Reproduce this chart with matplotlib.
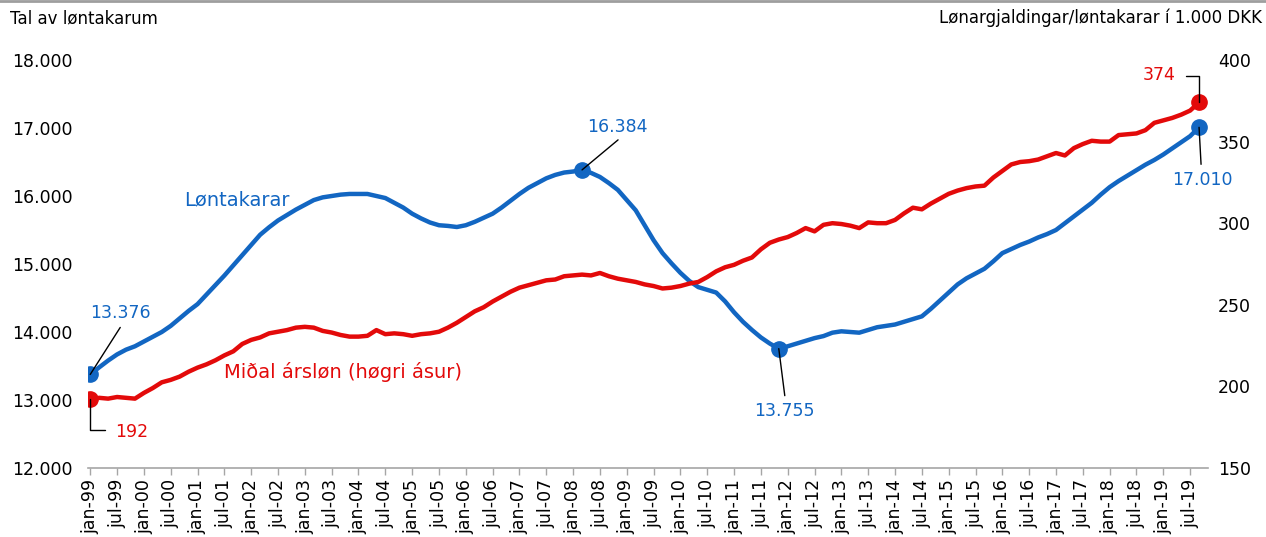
import numpy as np
import matplotlib
matplotlib.use("Agg")
import matplotlib.pyplot as plt
from matplotlib.lines import Line2D

BLUE = "#1266C2"
RED = "#E30A0A"
GREY = "#A6A6A6"

# months after jan-99, every second month up to sep-19
months = list(range(0, 250, 2))

lontakarar = [
    13376, 13480, 13580, 13670, 13740, 13790, 13860, 13930, 14000, 14090,
    14200, 14310, 14410, 14550, 14690, 14830, 14980, 15130, 15280, 15430,
    15540, 15640, 15720, 15800, 15870, 15940, 15980, 16000, 16020, 16030,
    16030, 16030, 16000, 15970, 15900, 15830, 15740, 15670, 15610, 15570,
    15560, 15544, 15570, 15620, 15680, 15740, 15830, 15930, 16030, 16120,
    16190, 16260, 16310, 16345, 16360, 16384, 16340, 16280, 16190, 16090,
    15940, 15790, 15570, 15350, 15160, 15010, 14870, 14750, 14660, 14620,
    14580, 14450, 14290, 14150, 14030, 13920, 13830, 13755, 13790, 13830,
    13870, 13910, 13940, 13990, 14010, 14000, 13990, 14030, 14070, 14090,
    14110, 14150, 14190, 14230, 14340, 14460, 14580, 14700, 14790, 14860,
    14930, 15040, 15160, 15220, 15280, 15330, 15390, 15440, 15500, 15600,
    15700, 15800, 15900, 16020, 16130, 16220, 16300, 16380, 16460, 16530,
    16610, 16700, 16790, 16880, 17010,
]

arslon = [
    192, 193, 192.5, 193.5, 193, 192.5, 196, 199, 202.5, 204,
    206, 209, 211.5, 213.5, 216, 219, 221.5, 226, 228.5, 230,
    232.5, 233.5, 234.5, 236, 236.5, 236, 234, 233, 231.5, 230.5,
    230.5, 231, 234.5, 232, 232.5, 232, 231, 232, 232.5, 233.5,
    236, 239, 242.5, 246, 248.5, 252, 255, 258, 260.5, 262,
    263.5, 265, 265.5, 267.5, 268, 268.5, 268, 269.5, 267.5, 266,
    265, 264, 262.5, 261.5, 260, 260.5, 261.5, 263, 264, 267,
    270.5, 273, 274.5, 277, 279, 284, 288, 290, 291.5, 294,
    297, 295, 299, 300, 299.5, 298.5, 297, 300.5, 300, 300,
    302, 306, 309.5, 308.5, 312, 315, 318, 320, 321.5, 322.5,
    323, 328, 332, 336, 337.5, 338, 339, 341, 343, 341.5,
    346, 348.5, 350.5, 350, 350, 354, 354.5, 355, 357, 361.5,
    363, 364.5, 366.5, 369, 374,
]

tick_labels = []
for yr in range(99, 120):
    tick_labels.append(f"jan-{yr % 100:02d}")
    tick_labels.append(f"jul-{yr % 100:02d}")
tick_labels = tick_labels[:42]

left_ticks = [12000, 13000, 14000, 15000, 16000, 17000, 18000]
right_ticks = [150, 200, 250, 300, 350, 400]


def fmt_thousands(v):
    return f"{v:,.0f}".replace(",", ".")


fig = plt.figure(figsize=(12.66, 5.37), dpi=100, facecolor="white")
ax = fig.add_axes([88 / 1266, 69 / 537, 1120 / 1266, 408 / 537])
ax2 = ax.twinx()

ax.plot(months, lontakarar, color=BLUE, lw=3.2, solid_capstyle="round", zorder=3)
ax2.plot(months, arslon, color=RED, lw=3.2, solid_capstyle="round", zorder=3)

blue_idx = [0, months.index(110), months.index(154), len(months) - 1]
red_idx = [0, len(months) - 1]
ax.plot([months[i] for i in blue_idx], [lontakarar[i] for i in blue_idx],
        "o", color=BLUE, ms=11, zorder=4)
ax2.plot([months[i] for i in red_idx], [arslon[i] for i in red_idx],
         "o", color=RED, ms=11, zorder=4)

ax.set_xlim(-0.5, 250)
ax.set_ylim(12000, 18000)
ax2.set_ylim(150, 400)

ax.set_yticks(left_ticks)
ax.set_yticklabels([fmt_thousands(v) for v in left_ticks])
ax2.set_yticks(right_ticks)
ax2.set_yticklabels([str(v) for v in right_ticks])

ax.set_xticks([i * 6 for i in range(len(tick_labels))])
ax.set_xticklabels(tick_labels, rotation=90)

for a in (ax, ax2):
    for side in ("top", "left", "right", "bottom"):
        a.spines[side].set_visible(False)
ax.spines["bottom"].set_visible(True)
ax.spines["bottom"].set_color(GREY)
ax.spines["bottom"].set_linewidth(1.2)

ax.tick_params(axis="x", direction="out", length=5, width=1, color=GREY,
               labelsize=12.5, pad=3)
ax.tick_params(axis="y", length=0, labelsize=12.5, pad=11)
ax2.tick_params(axis="y", length=0, labelsize=12.5, pad=7)


def label_point(a, x, y, text, color, text_off, line_end, elbow=False):
    style = "angle,angleA=0,angleB=90,rad=0" if elbow else "arc3,rad=0"
    a.annotate("", xy=(x, y), xytext=line_end, textcoords="offset pixels",
               arrowprops=dict(arrowstyle="-", color="black", lw=1,
                               shrinkA=0, shrinkB=0, connectionstyle=style),
               zorder=6)
    a.annotate(text, xy=(x, y), xytext=text_off, textcoords="offset pixels",
               ha="center", va="center", color=color, fontsize=12.5, zorder=6)


i0, ip, im, il = blue_idx
label_point(ax, months[i0], lontakarar[i0], fmt_thousands(lontakarar[i0]), BLUE, (30, 61), (30, 47))
label_point(ax, months[ip], lontakarar[ip], fmt_thousands(lontakarar[ip]), BLUE, (35, 43), (36, 30))
label_point(ax, months[im], lontakarar[im], fmt_thousands(lontakarar[im]), BLUE, (6, -62), (6, -47))
label_point(ax, months[il], lontakarar[il], fmt_thousands(lontakarar[il]), BLUE, (3, -53), (2, -37))
label_point(ax2, months[0], arslon[0], "192", RED, (41, -33), (15, -31), elbow=True)
label_point(ax2, months[-1], arslon[-1], "374", RED, (-40, 27), (-13, 26), elbow=True)

ax.text(21, 15941, "Løntakarar", color=BLUE, fontsize=14, va="center", ha="left")
ax2.text(30, 208.8, "Miðal ársløn (høgri ásur)", color=RED, fontsize=14,
         va="center", ha="left")

fig.text(10 / 1266, 1 - 18 / 537, "Tal av løntakarum", fontsize=12, va="center", ha="left")
fig.text(1262 / 1266, 1 - 18 / 537, "Lønargjaldingar/løntakarar í 1.000 DKK",
         fontsize=12, va="center", ha="right")
fig.add_artist(Line2D([0, 1], [1 - 1 / 537, 1 - 1 / 537], transform=fig.transFigure,
                      color="#9E9E9E", lw=2))

fig.savefig("out.png", dpi=100, facecolor=fig.get_facecolor())
plt.close(fig)
